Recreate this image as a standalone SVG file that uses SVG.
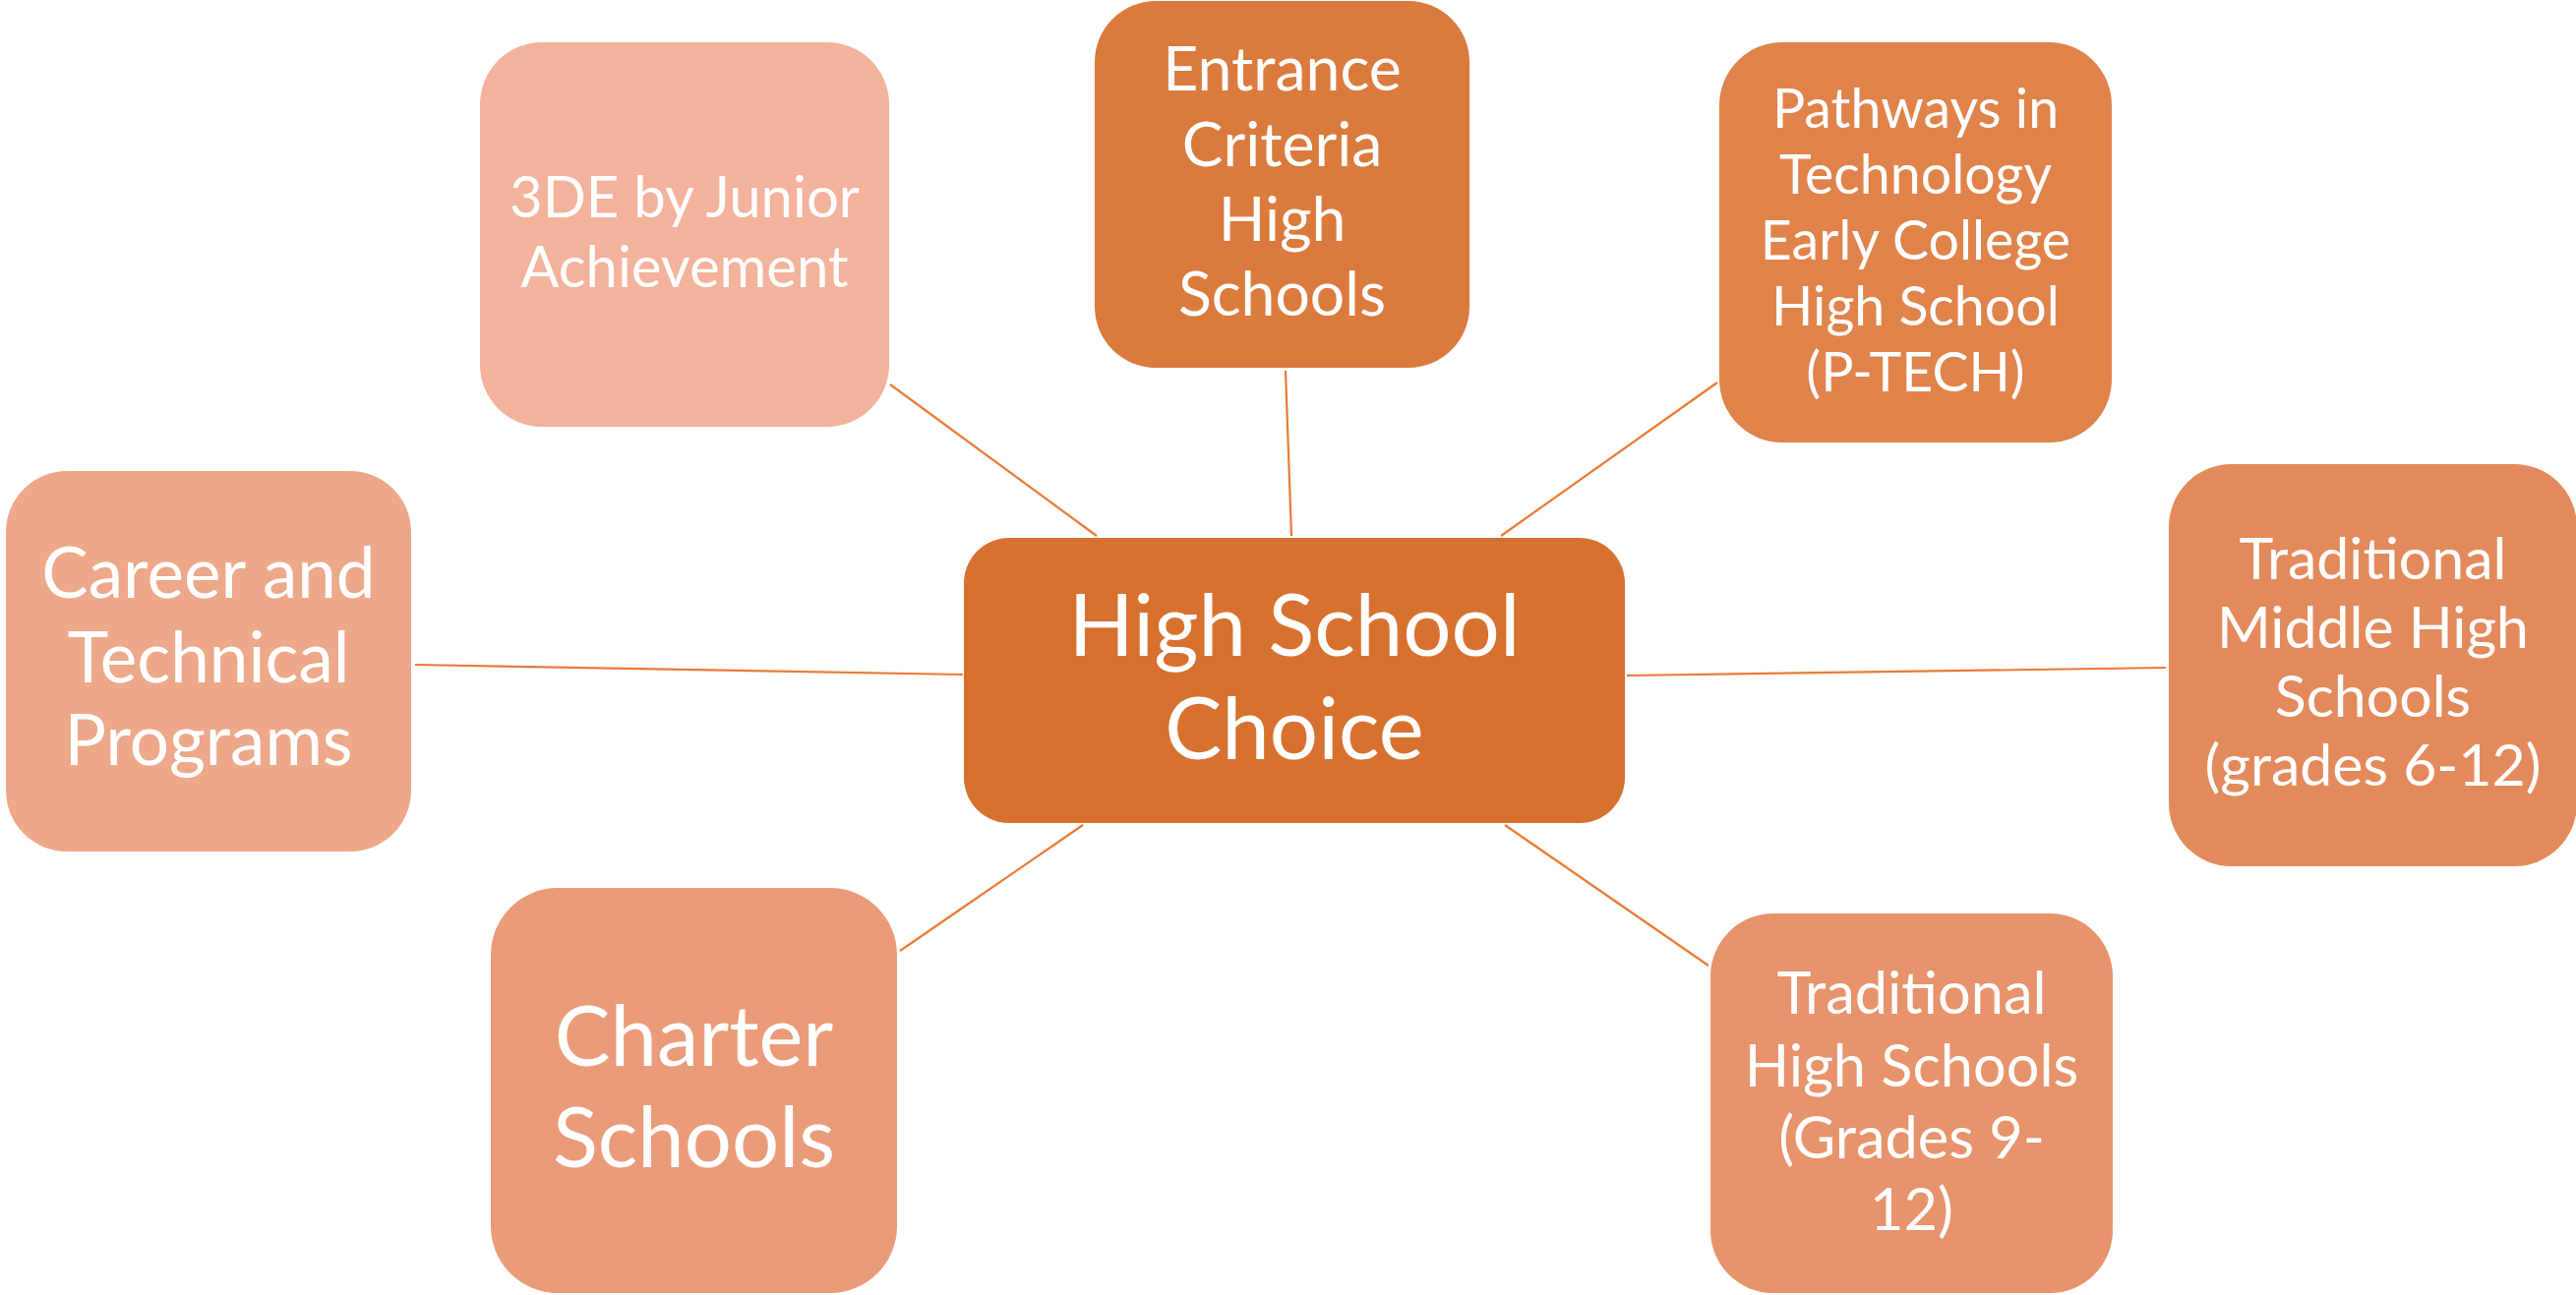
<svg xmlns="http://www.w3.org/2000/svg" width="2619" height="1317" viewBox="0 0 2619 1317">
<style>
.t{font-family:Lato,"Liberation Sans",sans-serif;fill:#fff;text-anchor:middle}
.c{stroke:#E97A35;stroke-width:2.2;fill:none}
</style>
<rect width="2619" height="1317" fill="#fff"/>
<g id="connectors">
<line class="c" x1="905" y1="391" x2="1115" y2="545"/>
<line class="c" x1="1307" y1="377" x2="1313" y2="545"/>
<line class="c" x1="1746" y1="389" x2="1526" y2="545"/>
<line class="c" x1="1654" y1="687" x2="2202" y2="679"/>
<line class="c" x1="1530" y1="839" x2="1737" y2="982"/>
<line class="c" x1="1101" y1="839" x2="915" y2="967"/>
<line class="c" x1="422" y1="676" x2="979" y2="686"/>
</g>
<g id="node-3de">
<rect x="488" y="43" width="416" height="391" rx="63" fill="#F2B29B"/>
<text class="t" font-size="58"><tspan x="696" y="221">3DE by Junior</tspan><tspan x="696" y="292">Achievement</tspan></text>
</g>
<g id="node-entrance">
<rect x="1113" y="1" width="381" height="373" rx="62" fill="#DA7A3C"/>
<text class="t" font-size="62.5"><tspan x="1303.5" y="92">Entrance</tspan><tspan x="1303.5" y="169">Criteria</tspan><tspan x="1303.5" y="245">High</tspan><tspan x="1303.5" y="321">Schools</tspan></text>
</g>
<g id="node-ptech">
<rect x="1748" y="43" width="399" height="407" rx="64" fill="#DF834B"/>
<text class="t" font-size="55.5"><tspan x="1947.5" y="130">Pathways in</tspan><tspan x="1947.5" y="197">Technology</tspan><tspan x="1947.5" y="264">Early College</tspan><tspan x="1947.5" y="331">High School</tspan><tspan x="1947.5" y="398">(P-TECH)</tspan></text>
</g>
<g id="node-trad-middle">
<rect x="2205" y="472" width="415" height="409" rx="64" fill="#E38A5C"/>
<text class="t" font-size="59"><tspan x="2412.5" y="589">Traditional</tspan><tspan x="2412.5" y="659">Middle High</tspan><tspan x="2412.5" y="729">Schools</tspan><tspan x="2412.5" y="799">(grades 6-12)</tspan></text>
</g>
<g id="node-trad-high">
<rect x="1739" y="929" width="409" height="386" rx="64" fill="#E7936B"/>
<text class="t" font-size="59.5"><tspan x="1943.5" y="1031">Traditional</tspan><tspan x="1943.5" y="1105">High Schools</tspan><tspan x="1943.5" y="1178">(Grades 9-</tspan><tspan x="1943.5" y="1251">12)</tspan></text>
</g>
<g id="node-charter">
<rect x="499" y="903" width="413" height="412" rx="68" fill="#EA9C7A"/>
<text class="t" font-size="85"><tspan x="705.5" y="1084">Charter</tspan><tspan x="705.5" y="1187">Schools</tspan></text>
</g>
<g id="node-career">
<rect x="6" y="479" width="412" height="387" rx="62" fill="#EDA789"/>
<text class="t" font-size="71"><tspan x="212" y="608">Career and</tspan><tspan x="212" y="694">Technical</tspan><tspan x="212" y="778">Programs</tspan></text>
</g>
<g id="node-center">
<rect x="980" y="547" width="672" height="290" rx="46" fill="#D77130"/>
<text class="t" font-size="87"><tspan x="1316" y="667">High School</tspan><tspan x="1316" y="772">Choice</tspan></text>
</g>
</svg>
